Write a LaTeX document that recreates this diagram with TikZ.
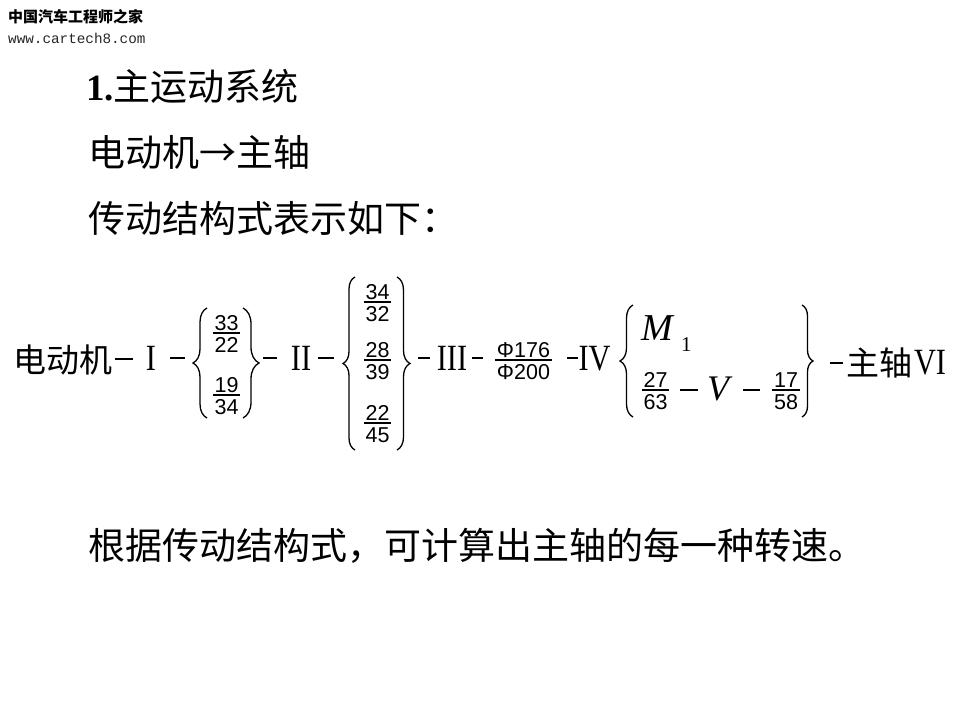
\documentclass[tikz,border=0pt]{standalone}
\usepackage{fontspec}
\usepackage{graphicx}
\setmainfont{Liberation Serif}
\setsansfont{Liberation Sans}
\setmonofont{Liberation Mono}
\newfontfamily\cjk{Noto Sans CJK SC}
\usetikzlibrary{decorations.pathreplacing}
\tikzset{
  txtline/.style={font=\cjk\fontsize{37}{40}\selectfont, anchor=west, inner sep=0pt},
  eqcjk/.style={font=\cjk\fontsize{33}{36}\selectfont, inner sep=0pt},
  roman/.style={font=\rmfamily\fontsize{37}{40}\selectfont, inner sep=0pt},
  numtxt/.style={font=\sffamily\fontsize{21.5}{24}\selectfont, inner xsep=1.5pt, inner ysep=0pt, text depth=0pt},
  fracbar/.style={line width=1.4pt},
  minusln/.style={line width=1.7pt},
  brc/.style={decorate, decoration={brace, amplitude=#1}, line width=1.3pt},
}
\newcommand\frc[5]{%
  \node[numtxt, anchor=base] (#1n) at (#2,#3-3) {#4};
  \node[numtxt, anchor=north, text height=15.5pt] (#1d) at (#2,#3+4) {#5};
  \coordinate (#1b) at (#2,#3);
  \draw[fracbar] (#1n.west |- #1b) -- (#1n.east |- #1b);
}
\newcommand\narrow[1]{\scalebox{0.82}[1]{#1}}
\begin{document}
\begin{tikzpicture}[x=1pt,y=-1pt]
\fill[white] (0,0) rectangle (960,720);
\useasboundingbox (0,0) rectangle (960,720);

% header
\node[font=\cjk\bfseries\fontsize{15}{16}\selectfont, anchor=west, inner sep=0pt] (h1) at (8,17) {中国汽车工程师之家};
\node[font=\ttfamily\fontsize{14.3}{16}\selectfont, anchor=west, inner sep=0pt, text=black!85] (h2) at (8,38) {www.cartech8.com};

% text lines
\node[txtline] (t1) at (86,86) {{\rmfamily\bfseries 1.}主运动系统};
\node[txtline] (t2) at (88,152) {电动机→主轴};
\node[txtline] (t3) at (88,218) {传动结构式表示如下：};
\node[txtline] (t4) at (88,546) {根据传动结构式，可计算出主轴的每一种转速。};

% formula
\node[eqcjk] (em) at (63,360) {电动机};
\draw[minusln] (115,359) -- (133,359);
\node[roman] (r1) at (151,358.5) {\narrow{I}};
\draw[minusln] (170,358) -- (185,358);
\draw[brc=14] (207,418) -- (207,308);
\frc{f1}{226.5}{333}{33}{22}
\frc{f2}{226.5}{395}{19}{34}
\draw[brc=16] (243,308) -- (243,418);
\draw[minusln] (263,358) -- (277,358);
\node[roman] (r2) at (301,358.5) {\narrow{II}};
\draw[minusln] (318,358) -- (334,358);
\draw[brc=12] (355,450) -- (355,277);
\frc{f3}{377.5}{302}{34}{32}
\frc{f4}{377.5}{360}{28}{39}
\frc{f5}{377.5}{423}{22}{45}
\draw[brc=13] (397,277) -- (397,450);
\draw[minusln] (418,358) -- (430,358);
\node[roman] (r3) at (452,358.5) {\narrow{III}};
\draw[minusln] (472,358) -- (483,358);
\frc{f6}{523.5}{360}{Φ176}{Φ200}
\draw[minusln] (567,358) -- (578,358);
\node[roman] (r4) at (594.5,358.5) {\narrow{IV}};
\draw[brc=13] (633,417) -- (633,305);
\node[font=\rmfamily\itshape\fontsize{38}{40}\selectfont, anchor=base west, inner sep=0pt] (m) at (641,340) {M};
\node[font=\rmfamily\fontsize{21}{22}\selectfont, anchor=base west, inner sep=0pt] (m1) at (681,351) {1};
\frc{f7}{655.5}{390}{27}{63}
\draw[minusln] (680,390) -- (698,390);
\node[font=\rmfamily\itshape\fontsize{36}{40}\selectfont, anchor=base west, inner sep=0pt] (v) at (707,400) {V};
\draw[minusln] (743,390) -- (760,390);
\frc{f8}{786}{390}{17}{58}
\draw[brc=11] (802,305) -- (802,417);
\draw[minusln] (830,363) -- (843,363);
\node[eqcjk] (zz) at (879.5,363) {主轴};
\node[roman] (r6) at (930,363) {\narrow{VI}};
\end{tikzpicture}
\end{document}
